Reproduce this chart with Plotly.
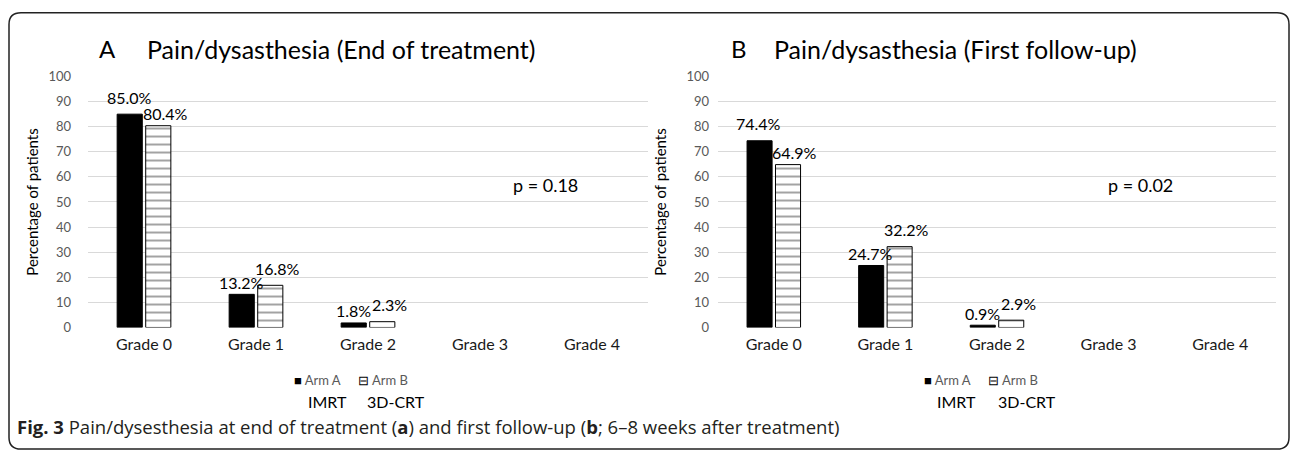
import plotly.graph_objects as go

W, H = 1290, 459

grades = ["Grade 0", "Grade 1", "Grade 2", "Grade 3", "Grade 4"]
end_arm_a = [85.0, 13.2, 1.8, 0.0, 0.0]
end_arm_b = [80.4, 16.8, 2.3, 0.0, 0.0]
fu_arm_a = [74.4, 24.7, 0.9, 0.0, 0.0]
fu_arm_b = [64.9, 32.2, 2.9, 0.0, 0.0]
y_ticks = [0, 10, 20, 30, 40, 50, 60, 70, 80, 90, 100]
p_left = "p = 0.18"
p_right = "p = 0.02"

FONT = "Lato"


def vals(v):
    return [x if x > 0 else None for x in v]


def px_x(p):
    return p / W


def px_y(p):
    return (H - p) / H


fig = go.Figure()
ann = []

def add_pair(a, b, xa, ya):
    fig.add_trace(go.Bar(
        x=grades, y=vals(a),
        marker=dict(color="#000000", line=dict(color="#000000", width=1)),
        name="Arm A", xaxis=xa, yaxis=ya, showlegend=False,
    ))
    fig.add_trace(go.Bar(
        x=grades, y=vals(b),
        marker=dict(color="#ffffff", line=dict(color="#000000", width=1),
                    pattern=dict(shape="-", size=8, solidity=0.18,
                                 fgcolor="#000000", bgcolor="#ffffff")),
        name="Arm B", xaxis=xa, yaxis=ya, showlegend=False,
    ))
    # value labels, staggered above each bar like the original (taller bar's label sits higher)
    for g, va, vb in zip(grades, a, b):
        if va > 0:
            ann.append(dict(xref=xa, yref=ya, x=g, y=va, text=f"{va:.1f}%", showarrow=False,
                            xshift=-15, yshift=17 if va >= vb else 12, yanchor="middle",
                            font=dict(size=16, color="#000000", family=FONT)))
        if vb > 0:
            ann.append(dict(xref=xa, yref=ya, x=g, y=vb, text=f"{vb:.1f}%", showarrow=False,
                            xshift=21, yshift=17 if vb > va else 12, yanchor="middle",
                            font=dict(size=16, color="#000000", family=FONT)))

add_pair(end_arm_a, end_arm_b, "x", "y")
add_pair(fu_arm_a, fu_arm_b, "x2", "y2")

ydom = [px_y(331), px_y(71)]
xax = dict(showgrid=False, showline=False, ticks="", tickfont=dict(size=16, color="#1a1a1a", family=FONT),
           ticklabelstandoff=6)
yax = dict(range=[0, 100], tickvals=y_ticks, showgrid=True, gridcolor="#d9d9d9", gridwidth=1,
           zeroline=False, showline=False, tickfont=dict(size=13, color="#595959", family=FONT),
           title=dict(text="Percentage of patients", font=dict(size=15, color="#000000", family=FONT)))

fig.update_layout(
    width=W, height=H, margin=dict(l=0, r=0, t=0, b=0),
    paper_bgcolor="#ffffff", plot_bgcolor="#ffffff",
    barmode="group", bargap=0.49, bargroupgap=0.12,
    font=dict(family=FONT),
    xaxis=dict(domain=[px_x(88), px_x(648)], anchor="y", **xax),
    xaxis2=dict(domain=[px_x(718), px_x(1276)], anchor="y2", **xax),
    yaxis=dict(domain=ydom, anchor="x", ticklabelstandoff=16, title_standoff=6, **yax),
    yaxis2=dict(domain=ydom, anchor="x2", ticklabelstandoff=8, title_standoff=16, **yax),
    showlegend=False,
)

def txt(x, y, t, size, xanchor="center", color="#000000", family=FONT):
    ann.append(dict(xref="paper", yref="paper", x=px_x(x), y=px_y(y), text=t, showarrow=False,
                    xanchor=xanchor, yanchor="middle", font=dict(size=size, color=color, family=family)))

txt(97, 42, "A", 24, "left")
txt(145, 42, "Pain/dysasthesia (End of treatment)", 25, "left")
txt(729, 42, "B", 24, "left")
txt(772, 42, "Pain/dysasthesia (First follow-up)", 25, "left")
txt(545, 183, p_left, 18)
txt(1140, 183, p_right, 18)
# legends (keys drawn as glyphs)
for x0 in (292, 922):
    txt(x0, 385, "<span style='color:#000000'>■</span> Arm A", 13, "left", "#595959")
    txt(x0 + 64, 385, "<span style='color:#000000'>⊟</span> Arm B", 13, "left", "#595959")
txt(327, 408, "IMRT", 16)
txt(396, 408, "3D-CRT", 16)
txt(956, 408, "IMRT", 16)
txt(1027, 408, "3D-CRT", 16)
txt(15, 434, "<b>Fig. 3</b> Pain/dysesthesia at end of treatment (<b>a</b>) and first follow-up (<b>b</b>; 6–8 weeks after treatment)",
    18.5, "left", "#231f20", "Open Sans")
fig.update_layout(annotations=ann)

# rounded frame around the figure
x0, x1, y0, y1, r = 9, 1289, 5, 457, 12
def P(x, y):
    return f"{px_x(x)} {px_y(y)}"
path = (f"M {P(x0 + r, y0)} L {P(x1 - r, y0)} Q {P(x1, y0)} {P(x1, y0 + r)} "
        f"L {P(x1, y1 - r)} Q {P(x1, y1)} {P(x1 - r, y1)} "
        f"L {P(x0 + r, y1)} Q {P(x0, y1)} {P(x0, y1 - r)} "
        f"L {P(x0, y0 + r)} Q {P(x0, y0)} {P(x0 + r, y0)} Z")
fig.add_shape(type="path", path=path, xref="paper", yref="paper",
              line=dict(color="#222222", width=1.5), fillcolor="rgba(0,0,0,0)")

fig.write_html("out.html", config={"displayModeBar": False},
               post_script="document.body.style.margin='0';")
